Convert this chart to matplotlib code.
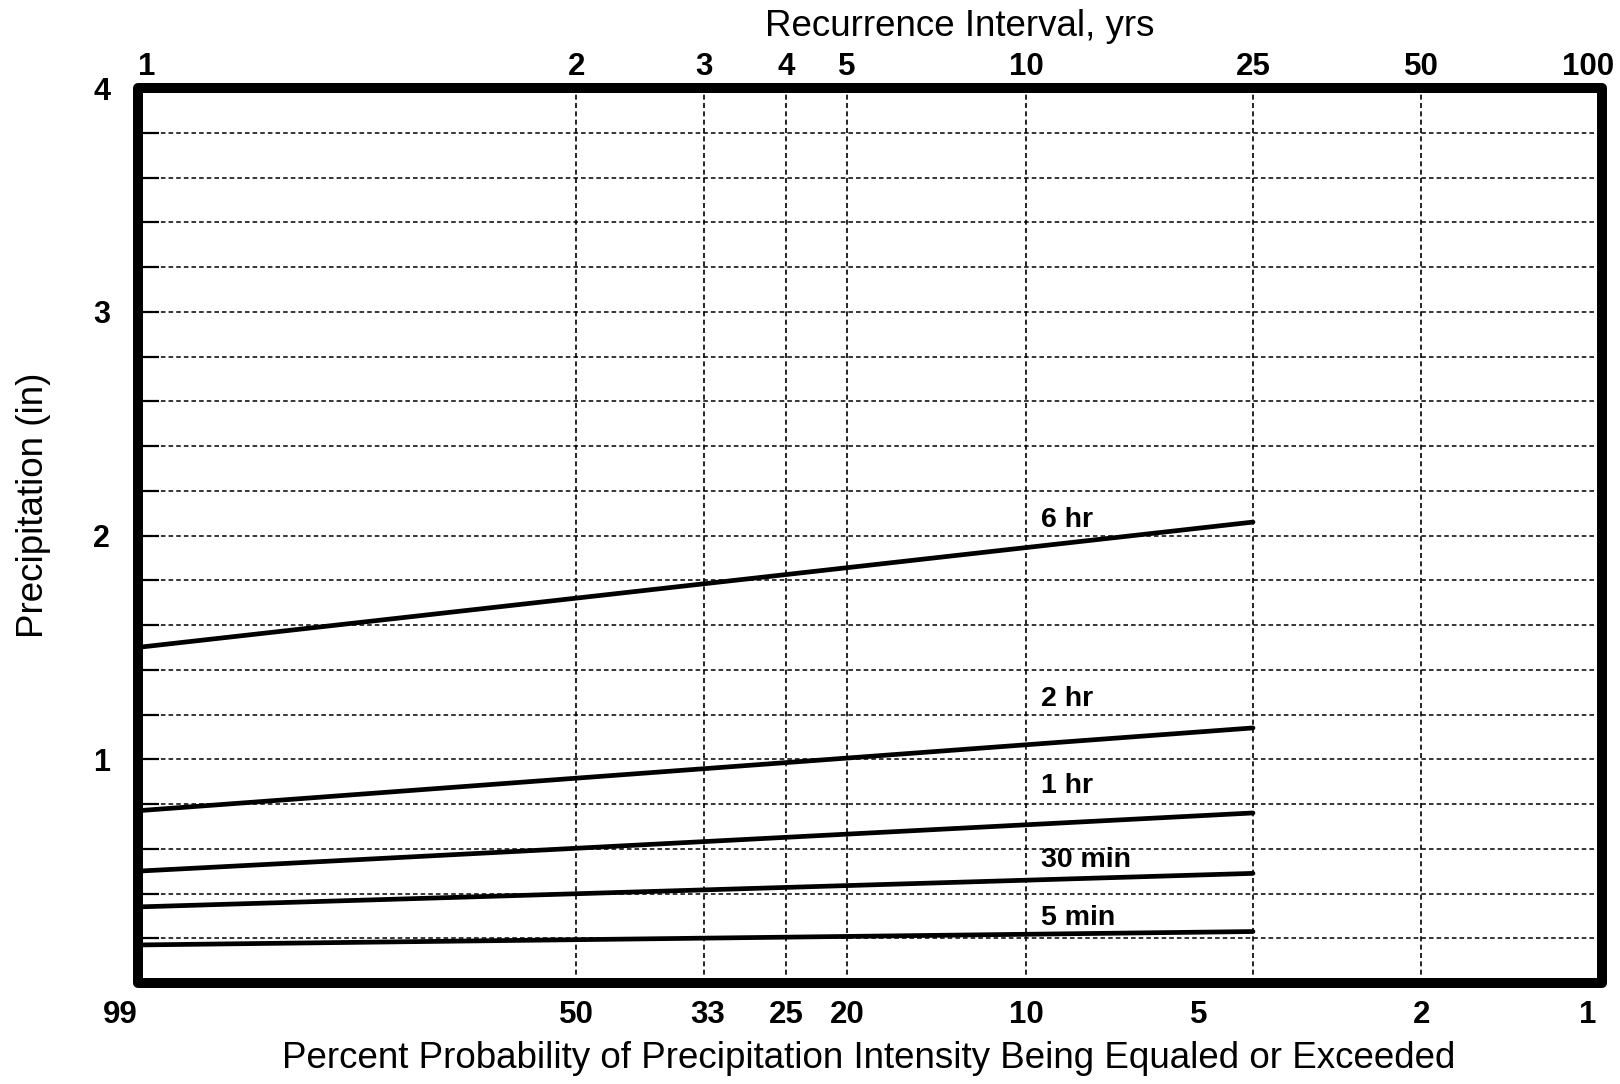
import numpy as np
import matplotlib.pyplot as plt
from matplotlib.patches import Rectangle

plt.rcParams['font.family'] = ['Liberation Sans', 'DejaVu Sans']


def gumbel(t):
    # recurrence interval (yrs) -> Gumbel reduced variate
    t = np.clip(np.asarray(t, dtype=float), 1.000001, None)
    with np.errstate(all='ignore'):
        return -np.log(-np.log(1.0 - 1.0 / t))


def gumbel_inv(y):
    y = np.asarray(y, dtype=float)
    with np.errstate(all='ignore'):
        return 1.0 / (1.0 - np.exp(-np.exp(-y)))


# precipitation depth (in) at the start of the record and at the 25 yr event
durations = ["6 hr", "2 hr", "1 hr", "30 min", "5 min"]
t_left, t_right = 1.0133, 106.0
t_end = 25
precip_start = [1.50, 0.77, 0.50, 0.34, 0.17]
precip_end = [2.06, 1.14, 0.76, 0.49, 0.23]

years = [1, 2, 3, 4, 5, 10, 25, 50, 100]
year_labels = ["1", "2", "3", "4", "5", "10", "25", "50", "100"]
pct = [99, 50, 33, 25, 20, 10, 5, 2, 1]
pct_labels = ["99", "50", "33", "25", "20", "10", "5", "2", "1"]

fig = plt.figure(figsize=(16.2, 10.84), dpi=100)
ax = fig.add_axes([138 / 1620, 1 - 983 / 1084, 1464 / 1620, 895 / 1084])
ax.set_xscale('function', functions=(gumbel, gumbel_inv))
ax.set_xlim(t_left, t_right)
ax.set_ylim(0, 4)

# grid
yt = np.round(np.arange(0, 4.01, 0.2), 1)
for v in yt[1:-1]:
    ax.axhline(v, color='k', lw=1.1, ls=(0, (3, 2)), zorder=1)
for t in years[1:-1]:
    ax.axvline(t, color='k', lw=1.2, ls=(0, (3, 2)), zorder=1)

# precipitation lines
for name, p0, p1 in zip(durations, precip_start, precip_end):
    ax.plot([t_left, t_end], [p0, p1], color='k', lw=3.4,
            solid_capstyle='round', zorder=3)

label_y = [2.04, 1.24, 0.85, 0.52, 0.26]
for name, ly in zip(durations, label_y):
    ax.text(10.6, ly, name, fontsize=20.5, fontweight='bold',
            ha='left', va='baseline', zorder=4)

# y axis
ylabels = [f"{v:.0f}" if v > 0 and abs(v - round(v)) < 1e-6 else "" for v in yt]
ax.set_yticks(yt, ylabels, fontweight='bold')
ax.tick_params(axis='y', direction='in', length=15, width=1.6, pad=20,
               labelsize=22)

# bottom axis: percent probability
bottom_pos = np.maximum(100.0 / np.array(pct), t_left)
ax.set_xticks(bottom_pos, pct_labels, fontweight='bold')
ax.tick_params(axis='x', length=0, pad=12, labelsize=22.5)
ax.xaxis.set_minor_locator(plt.NullLocator())
ax.get_xticklabels()[0].set_ha('right')

# top axis: recurrence interval
ax2 = ax.twiny()
ax2.set_xscale('function', functions=(gumbel, gumbel_inv))
ax2.set_xlim(t_left, t_right)
top_pos = np.clip(np.array(years, dtype=float), t_left, None)
ax2.set_xticks(top_pos, year_labels, fontweight='bold')
ax2.xaxis.set_minor_locator(plt.NullLocator())
ax2.tick_params(axis='x', length=0, pad=4, labelsize=22.5)
ax2.get_xticklabels()[0].set_ha('left')

for a in (ax, ax2):
    for s in a.spines.values():
        s.set_visible(False)

ax.add_patch(Rectangle((0, 0), 1, 1, transform=ax.transAxes, fill=False,
                       ec='k', lw=7.2, joinstyle='round', clip_on=False,
                       zorder=6))

fig.text(960 / 1620, 1 - 26 / 1084, "Recurrence Interval, yrs",
         fontsize=26.5, ha='center', va='center')
fig.text(869 / 1620, 1 - 1059 / 1084,
         "Percent Probability of Precipitation Intensity Being Equaled or Exceeded",
         fontsize=26.5, ha='center', va='center')
fig.text(34 / 1620, 1 - 505 / 1084, "Precipitation (in)", fontsize=26.5,
         rotation=90, ha='center', va='center')

fig.savefig("out.png", dpi=100, facecolor='white')
